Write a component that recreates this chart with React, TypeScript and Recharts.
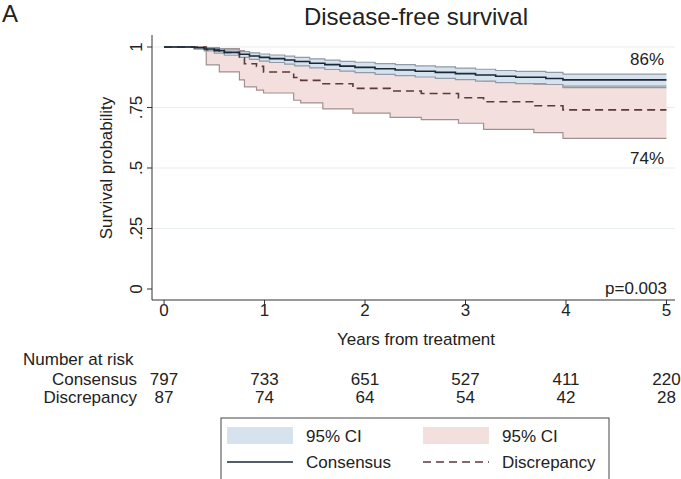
import {
  Area,
  CartesianGrid,
  ComposedChart,
  Line,
  XAxis,
  YAxis,
} from "recharts"

const FONT = "'Liberation Sans', Arial, Helvetica, sans-serif"

// Kaplan-Meier steps (years, survival) for the consensus group
const consTimes = [0, 0.3, 0.4, 0.5, 0.6, 0.75, 0.85, 0.95, 1.05, 1.2, 1.3, 1.45, 1.6, 1.75, 1.9, 2.1, 2.3, 2.5, 2.7, 2.9, 3.1, 3.3, 3.5, 3.8, 3.97, 5]
const consSurv = [1, 0.997, 0.992, 0.985, 0.978, 0.97, 0.963, 0.957, 0.952, 0.946, 0.94, 0.933, 0.927, 0.921, 0.916, 0.91, 0.905, 0.9, 0.895, 0.89, 0.884, 0.879, 0.875, 0.87, 0.864, 0.864]
const consUpper = [1, 1, 0.998, 0.993, 0.988, 0.981, 0.976, 0.971, 0.967, 0.962, 0.957, 0.951, 0.946, 0.941, 0.937, 0.931, 0.927, 0.922, 0.918, 0.913, 0.908, 0.903, 0.899, 0.895, 0.888, 0.888]
const consLower = [1, 0.991, 0.984, 0.975, 0.966, 0.957, 0.949, 0.942, 0.936, 0.929, 0.922, 0.914, 0.907, 0.9, 0.894, 0.887, 0.882, 0.876, 0.87, 0.865, 0.859, 0.853, 0.849, 0.845, 0.838, 0.838]

// discrepancy group
const discTimes = [0, 0.42, 0.55, 0.75, 0.8, 0.92, 0.99, 1.29, 1.36, 1.58, 1.88, 2.25, 2.56, 2.93, 3.18, 3.68, 3.97, 5]
const discSurv = [1, 0.989, 0.977, 0.954, 0.931, 0.92, 0.897, 0.874, 0.862, 0.848, 0.829, 0.818, 0.808, 0.79, 0.774, 0.757, 0.74, 0.74]
const discUpper = [1, 0.998, 0.993, 0.985, 0.972, 0.965, 0.951, 0.935, 0.926, 0.916, 0.901, 0.893, 0.885, 0.871, 0.86, 0.847, 0.832, 0.832]
const discLower = [1, 0.926, 0.897, 0.864, 0.835, 0.822, 0.81, 0.78, 0.769, 0.744, 0.727, 0.709, 0.7, 0.685, 0.66, 0.646, 0.622, 0.622]

// number at risk table
const riskTimes = [0, 1, 2, 3, 4, 5]
const consRisk = [797, 733, 651, 527, 411, 220]
const discRisk = [87, 74, 64, 54, 42, 28]

const yTicks = [0, 0.25, 0.5, 0.75, 1]

const BLUE_FILL = "#d6e3ee"
const BLUE_EDGE = "#8f9ba6"
const PINK_FILL = "#f4dfdf"
const PINK_EDGE = "#a39090"
const CONS_LINE = "#1b2838"
const DISC_LINE = "#5b3a3a"
const TEXT = "#222"

function stepValue(times: number[], vals: number[], t: number) {
  let v = vals[0]
  for (let i = 0; i < times.length; i++) {
    if (times[i] <= t + 1e-9) v = vals[i]
  }
  return v
}

const allTimes = Array.from(new Set([...consTimes, ...discTimes])).sort(
  (a, b) => a - b
)

const rows = allTimes.map((t) => ({
  t,
  cons: stepValue(consTimes, consSurv, t),
  consBand: [
    stepValue(consTimes, consLower, t),
    stepValue(consTimes, consUpper, t),
  ],
  disc: stepValue(discTimes, discSurv, t),
  discBand: [
    stepValue(discTimes, discLower, t),
    stepValue(discTimes, discUpper, t),
  ],
}))

const fmtY = (v: number) => (v === 0 || v === 1 ? String(v) : String(v).replace(/^0/, ""))

// vertical tick labels, reading bottom to top
function YTick(props: any) {
  const { x, y, payload } = props
  const bx = x - 3
  return (
    <text
      x={bx}
      y={y}
      transform={`rotate(-90, ${bx}, ${y})`}
      textAnchor="middle"
      fontSize={17}
      fontFamily={FONT}
      fill={TEXT}
    >
      {fmtY(payload.value)}
    </text>
  )
}

// x tick label plus the two at-risk counts under it
function RiskTick(props: any) {
  const { x, y, payload } = props
  const i = riskTimes.indexOf(payload.value)
  return (
    <g fontFamily={FONT} fontSize={17} fill={TEXT} textAnchor="middle">
      <text x={x} y={y + 9}>
        {payload.value}
      </text>
      <text x={x} y={y + 78}>
        {consRisk[i]}
      </text>
      <text x={x} y={y + 96}>
        {discRisk[i]}
      </text>
    </g>
  )
}

function gridRows({ yAxis }: any) {
  const s = yAxis?.scale
  const f = typeof s === "function" ? s : s?.map?.bind(s)
  if (!f) return []
  return [0.25, 0.5, 0.75, 1].map((v) => f(v))
}

export default function App() {
  return (
    <div
      style={{
        position: "absolute",
        left: 0,
        top: 0,
        width: 681,
        height: 479,
        background: "#fff",
        overflow: "hidden",
      }}
    >
      <ComposedChart
        width={681}
        height={479}
        data={rows}
        margin={{ top: 35, right: 6, left: 102, bottom: 149 }}
      >
        <CartesianGrid
          vertical={false}
          stroke="#e7ecef"
          horizontalCoordinatesGenerator={gridRows}
        />
        <XAxis
          dataKey="t"
          type="number"
          domain={[-0.12, 5.085]}
          ticks={riskTimes}
          interval={0}
          allowDataOverflow
          height={30}
          tickSize={5}
          stroke="#333"
          tick={<RiskTick />}
        />
        <YAxis
          type="number"
          domain={[-0.0455, 1.0496]}
          ticks={yTicks}
          interval={0}
          allowDataOverflow
          width={50}
          tickSize={5}
          stroke="#333"
          tick={<YTick />}
        />
        <Area
          type="stepAfter"
          dataKey="discBand"
          fill={PINK_FILL}
          fillOpacity={1}
          stroke={PINK_EDGE}
          strokeWidth={1.2}
          isAnimationActive={false}
        />
        <Area
          type="stepAfter"
          dataKey="consBand"
          fill={BLUE_FILL}
          fillOpacity={1}
          stroke={BLUE_EDGE}
          strokeWidth={1.2}
          isAnimationActive={false}
        />
        <Line
          type="stepAfter"
          dataKey="disc"
          stroke={DISC_LINE}
          strokeWidth={1.6}
          strokeDasharray="8 5"
          dot={false}
          isAnimationActive={false}
        />
        <Line
          type="stepAfter"
          dataKey="cons"
          stroke={CONS_LINE}
          strokeWidth={1.6}
          dot={false}
          isAnimationActive={false}
        />
      </ComposedChart>

      <svg
        width={681}
        height={479}
        style={{ position: "absolute", left: 0, top: 0, pointerEvents: "none" }}
        fontFamily={FONT}
        fill={TEXT}
      >
        <text x={2} y={22} fontSize={24}>
          A
        </text>
        <text x={416} y={25} fontSize={24} textAnchor="middle">
          Disease-free survival
        </text>
        <text
          x={112}
          y={168}
          fontSize={17}
          textAnchor="middle"
          transform="rotate(-90, 112, 168)"
        >
          Survival probability
        </text>
        <text x={664} y={65} fontSize={17} textAnchor="end">
          86%
        </text>
        <text x={664} y={164} fontSize={17} textAnchor="end">
          74%
        </text>
        <text x={667} y={294} fontSize={17} textAnchor="end">
          p=0.003
        </text>
        <text x={416} y={345} fontSize={17} textAnchor="middle">
          Years from treatment
        </text>
        <text x={23} y={365} fontSize={17}>
          Number at risk
        </text>
        <text x={137} y={385} fontSize={17} textAnchor="end">
          Consensus
        </text>
        <text x={137} y={403} fontSize={17} textAnchor="end">
          Discrepancy
        </text>

        {/* legend */}
        <rect x={221} y={418} width={388} height={70} fill="#fff" stroke="#444" />
        <rect x={227} y={427} width={66} height={17} fill={BLUE_FILL} />
        <text x={306} y={442} fontSize={17}>
          95% CI
        </text>
        <rect x={423} y={427} width={66} height={17} fill={PINK_FILL} />
        <text x={502} y={442} fontSize={17}>
          95% CI
        </text>
        <line x1={227} x2={293} y1={462} y2={462} stroke={CONS_LINE} strokeWidth={1.5} />
        <text x={306} y={468} fontSize={17}>
          Consensus
        </text>
        <line
          x1={423}
          x2={489}
          y1={462}
          y2={462}
          stroke={DISC_LINE}
          strokeWidth={1.5}
          strokeDasharray="8 5"
        />
        <text x={502} y={468} fontSize={17}>
          Discrepancy
        </text>
      </svg>
    </div>
  )
}
